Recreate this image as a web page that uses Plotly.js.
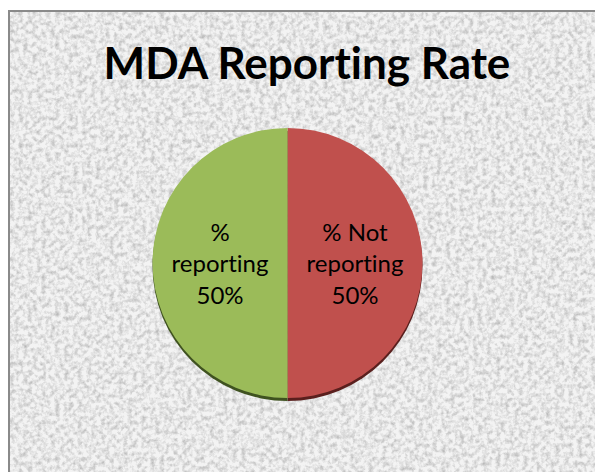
<!DOCTYPE html>
<html>
<head>
<meta charset="utf-8">
<script src="https://cdn.plot.ly/plotly-3.0.1.min.js"></script>
<style>
html, body { margin:0; padding:0; background:#ffffff; }
#wrap { position:relative; width:595px; height:472px; overflow:hidden; background:#ffffff; }
#tex { position:absolute; left:8px; top:10px; width:600px; height:470px; border-left:2px solid #8a8a8a; border-top:2px solid #8a8a8a; box-sizing:border-box; background:#ececec; }
#tex svg { position:absolute; left:0; top:0; }
#chart { position:absolute; left:0; top:0; width:595px; height:472px; }
#chart text { font-variant-ligatures:none; font-feature-settings:"liga" 0, "clig" 0; }
</style>
</head>
<body>
<div id="wrap">
  <div id="tex">
    <svg width="600" height="470">
      <filter id="n" x="0" y="0" width="100%" height="100%">
        <feTurbulence type="fractalNoise" baseFrequency="0.22" numOctaves="3" seed="4" result="t"/>
        <feColorMatrix type="matrix" values="0 0 0 0 0  0 0 0 0 0  0 0 0 0 0  -1.8 0 0 0 1.1" />
      </filter>
      <rect width="600" height="470" fill="#f3f3f3"/>
      <rect width="600" height="470" fill="#b4b4b4" filter="url(#n)" opacity="0.25"/>
    </svg>
  </div>
  <div id="chart"></div>
</div>
<script>
const categories = ['% Not reporting', '% reporting'];
const labelText = ['% Not<br>reporting', '%<br>reporting'];
const values = [50, 50];
const colors = ['#C0504D', '#9BBB59'];
const shadowColors = ['#5a1f1d', '#3f5220'];

const dom = {x:[145/595, 430/595], y:[(472-398)/472, (472-128)/472]};
const domShadow = {x:[145/595, 430/595], y:[(472-401)/472, (472-131)/472]};

const shadow = {
  type:'pie', labels:categories, values:values, sort:false, direction:'clockwise', rotation:0,
  marker:{colors:shadowColors, line:{width:0}}, textinfo:'none', hoverinfo:'skip',
  domain:domShadow, showlegend:false
};
const pie = {
  type:'pie', labels:categories, values:values, text:labelText, sort:false, direction:'clockwise', rotation:0,
  marker:{colors:colors, line:{width:0}},
  texttemplate:'%{text}<br>%{percent:.0%}', textposition:'inside', insidetextorientation:'horizontal',
  textfont:{family:'Lato, "Open Sans", sans-serif', size:24, color:'#000000'},
  domain:dom, showlegend:false
};
const layout = {
  width:595, height:472,
  margin:{l:0, r:0, t:0, b:0},
  paper_bgcolor:'rgba(0,0,0,0)', plot_bgcolor:'rgba(0,0,0,0)',
  title:{text:'<b>MDA Reporting Rate</b>', x:307/595, xanchor:'center', y:1-64/472, yanchor:'middle',
         font:{family:'Lato, "Open Sans", sans-serif', size:44, color:'#000000'}},
  showlegend:false
};
Plotly.newPlot('chart', [shadow, pie], layout, {displayModeBar:false, staticPlot:true});
</script>
</body>
</html>
